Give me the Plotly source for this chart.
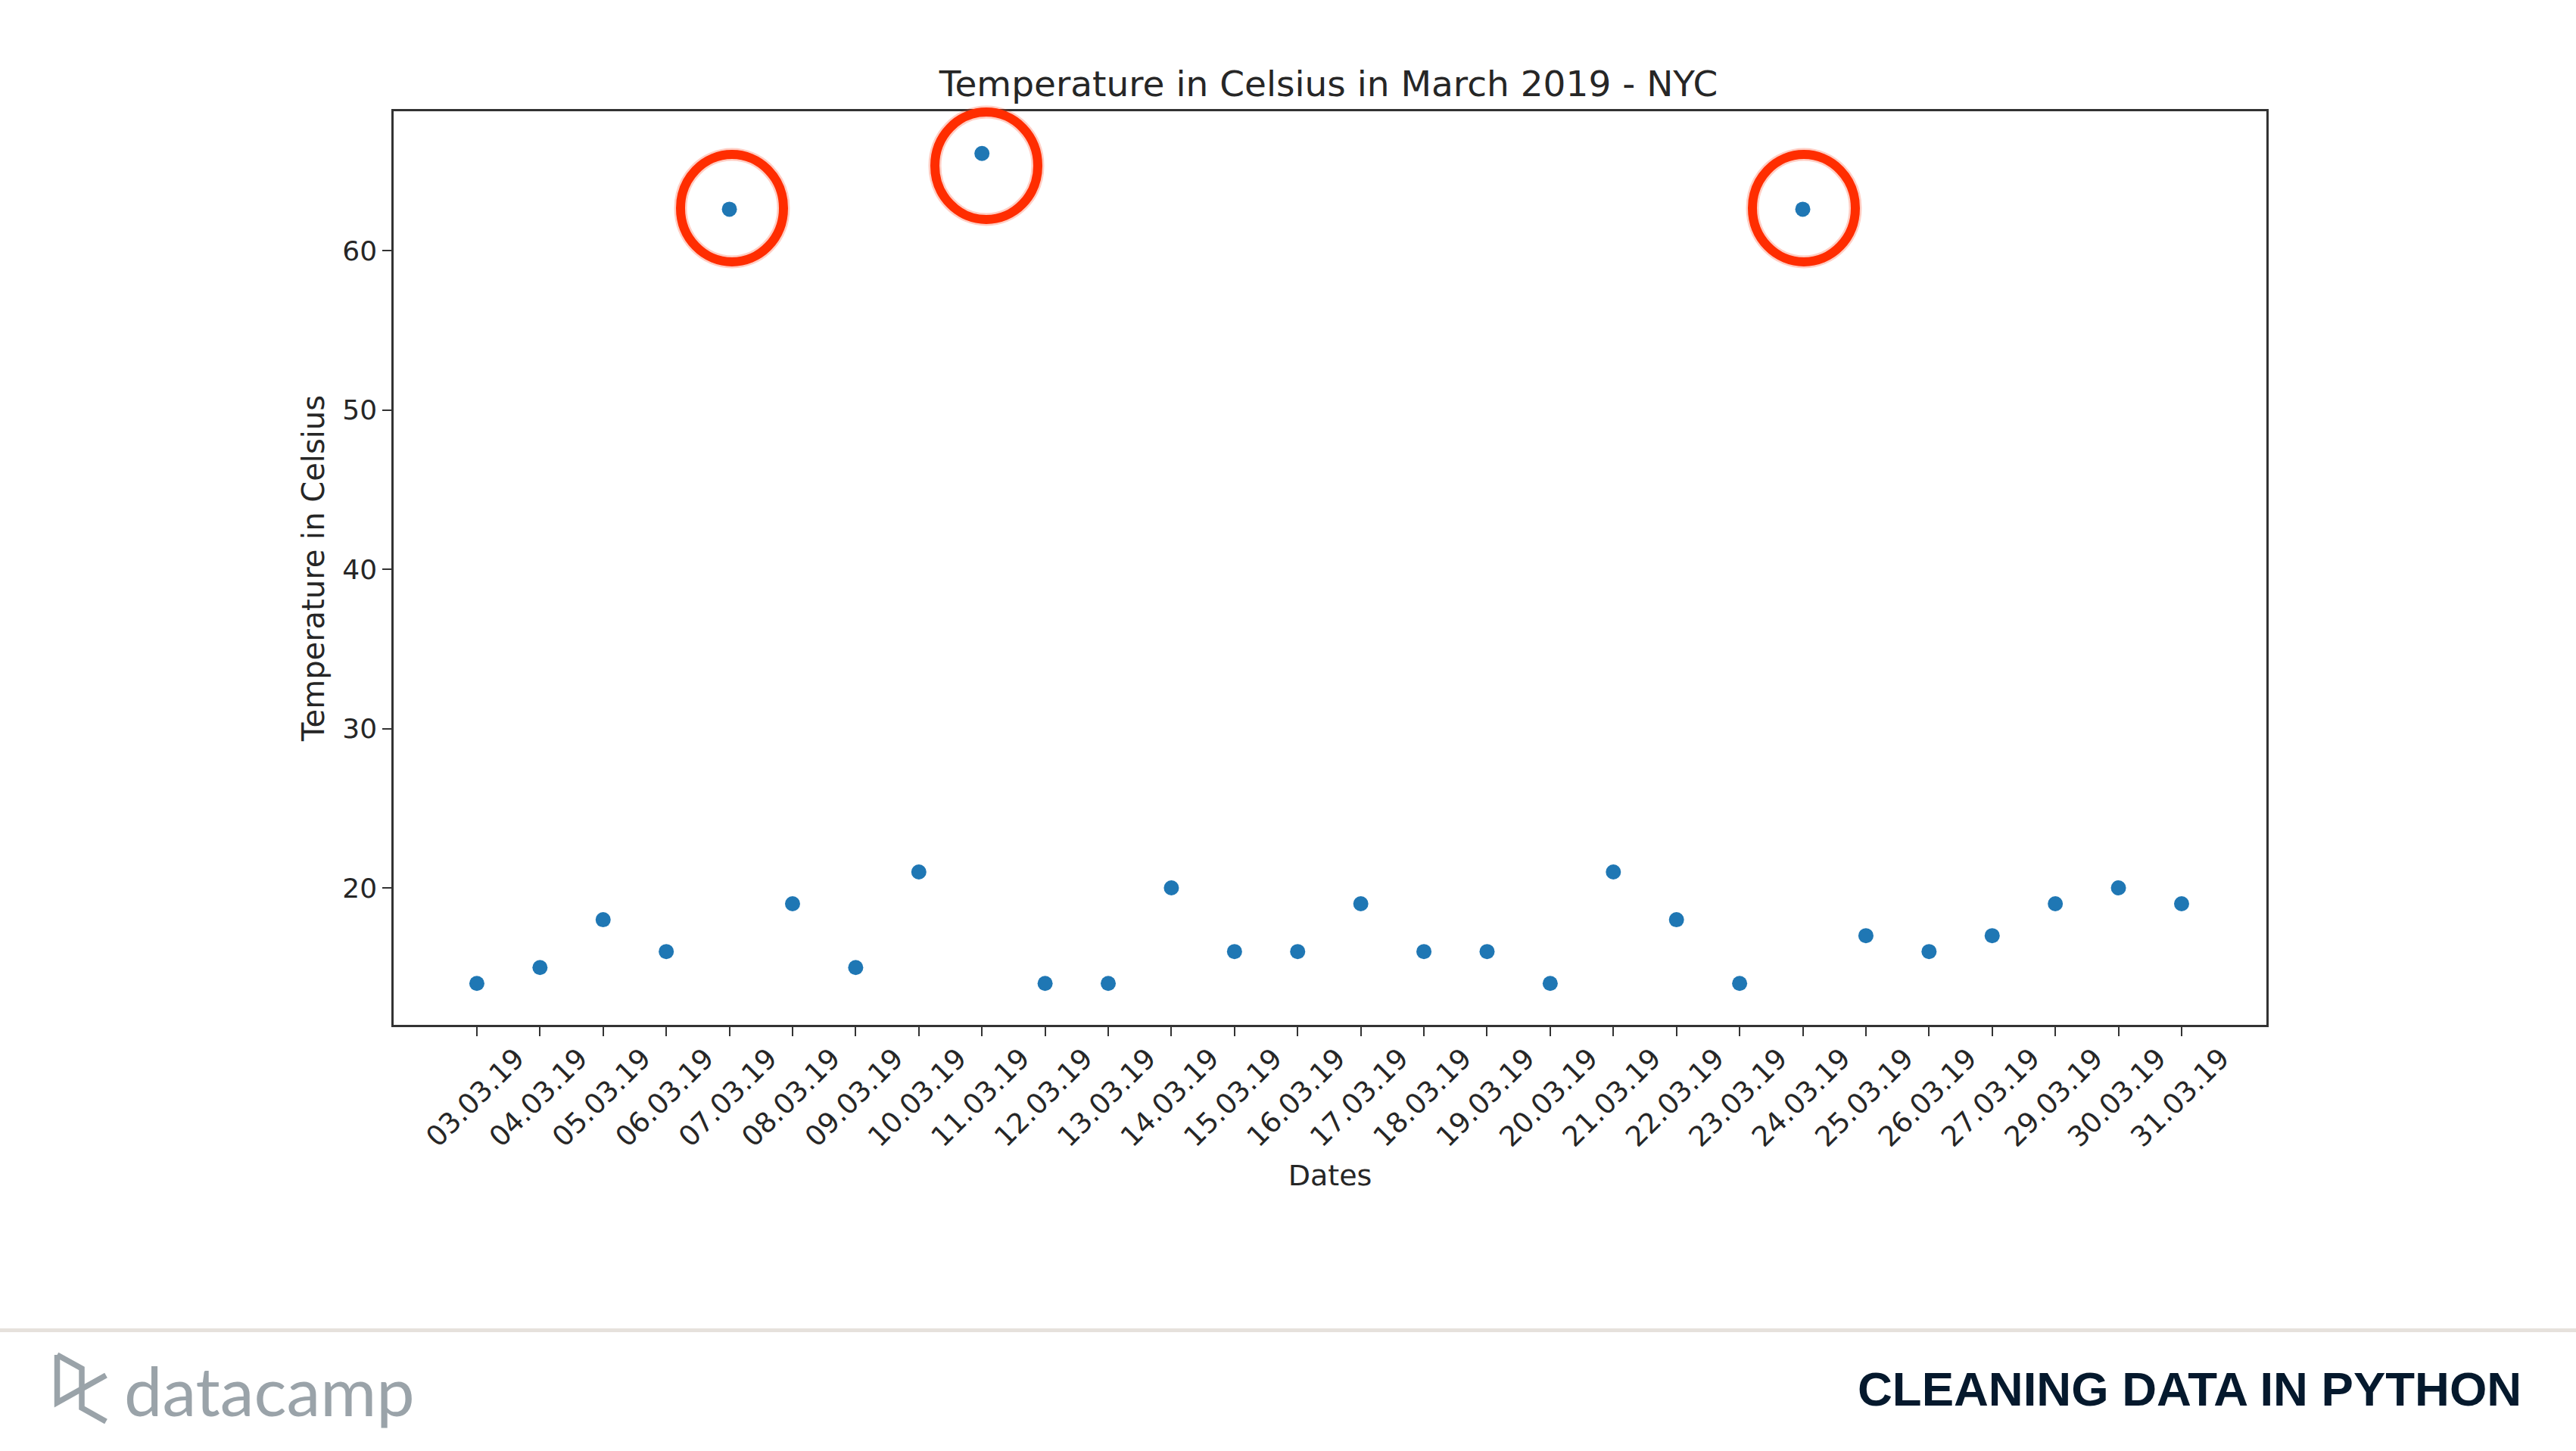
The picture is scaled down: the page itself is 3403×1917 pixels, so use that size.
import plotly.graph_objects as go

W, H = 3403, 1917
PLOT_L, PLOT_R, PLOT_T, PLOT_B = 520, 2994, 147, 1354

dates = ["03.03.19","04.03.19","05.03.19","06.03.19","07.03.19","08.03.19","09.03.19",
         "10.03.19","11.03.19","12.03.19","13.03.19","14.03.19","15.03.19","16.03.19",
         "17.03.19","18.03.19","19.03.19","20.03.19","21.03.19","22.03.19","23.03.19",
         "24.03.19","25.03.19","26.03.19","27.03.19","29.03.19","30.03.19","31.03.19"]
temps = [14,15,18,16,62.6,19,15,21,66.1,14,14,20,16,16,19,16,16,14,21,18,14,62.6,17,16,17,19,20,19]
y_ticks = [20,30,40,50,60]

TEXT = "#262626"
DEJA = "DejaVu Sans"

def fx(p): return p / W
def fy(p): return 1 - p / H

fig = go.Figure(go.Scatter(x=dates, y=temps, mode="markers",
                           marker=dict(color="#1f77b4", size=20, line=dict(width=0)),
                           showlegend=False))

axis_line = dict(showline=True, mirror=True, linecolor="#333333", linewidth=2.5,
                 showgrid=False, zeroline=False, ticks="outside", ticklen=12,
                 tickwidth=2, tickcolor="#333333")

fig.update_xaxes(type="category", categoryorder="array", categoryarray=dates,
                 range=[-1.318, 28.343], domain=[fx(PLOT_L), fx(PLOT_R)], tickangle=-45,
                 tickmode="array", tickvals=dates, ticktext=dates, ticklabelshift=52,
                 ticklabelstandoff=-7,
                 tickfont=dict(family=DEJA, size=37, color=TEXT),
                 title=dict(text="Dates", font=dict(family=DEJA, size=38, color=TEXT), standoff=17),
                 **axis_line)
fig.update_yaxes(range=[11.4, 68.75], domain=[fy(PLOT_B), fy(PLOT_T)],
                 tickmode="array", tickvals=y_ticks, ticktext=[str(v) for v in y_ticks],
                 tickfont=dict(family=DEJA, size=36, color=TEXT),
                 title=dict(text="Temperature in Celsius", font=dict(family=DEJA, size=40, color=TEXT), standoff=12),
                 **axis_line)

shapes = []
# red hand-drawn emphasis rings (soft halo + core)
for cx, cy in [(967, 275), (1303, 219), (2383, 275)]:
    for col, lw in [("rgba(255,60,20,0.25)", 17), ("#ff2d00", 12)]:
        shapes.append(dict(type="circle", xref="paper", yref="paper", layer="above",
                           x0=fx(cx - 68), x1=fx(cx + 68), y0=fy(cy + 71), y1=fy(cy - 71),
                           line=dict(color=col, width=lw)))
# footer rule
shapes.append(dict(type="line", xref="paper", yref="paper", x0=0, x1=1,
                   y0=fy(1757.5), y1=fy(1757.5), line=dict(color="#e6e1dc", width=5)))
# logo glyph
for pts in [[(75.5,1790),(75.5,1853),(140,1817)], [(75.5,1790),(108,1808),(108,1860),(140,1878)]]:
    d = "M" + " L".join(f"{fx(x)},{fy(y)}" for x, y in pts)
    shapes.append(dict(type="path", xref="paper", yref="paper", path=d,
                       line=dict(color="#9aa3a9", width=7.5)))

fig.update_layout(
    width=W, height=H, autosize=False,
    paper_bgcolor="white", plot_bgcolor="white",
    margin=dict(l=0, r=0, t=0, b=0),
    title=dict(text="Temperature in Celsius in March 2019 - NYC",
               font=dict(family=DEJA, size=47, color=TEXT),
               xref="paper", yref="container", x=fx(1755), xanchor="center",
               y=fy(111), yanchor="middle"),
    shapes=shapes,
    annotations=[
        dict(text="datacamp", xref="paper", yref="paper", x=fx(162), y=fy(1836), xanchor="left",
             yanchor="middle", showarrow=False, font=dict(family="Lato", size=90, color="#9aa3a9")),
        dict(text="<b>CLEANING DATA IN PYTHON</b>", xref="paper", yref="paper", x=fx(3333), y=fy(1835),
             xanchor="right", yanchor="middle", showarrow=False,
             font=dict(family="Liberation Sans", size=63.5, color="#05192d")),
    ],
)
fig.write_html("out.html", config={"displayModeBar": False},
               post_script="document.body.style.margin='0';")
